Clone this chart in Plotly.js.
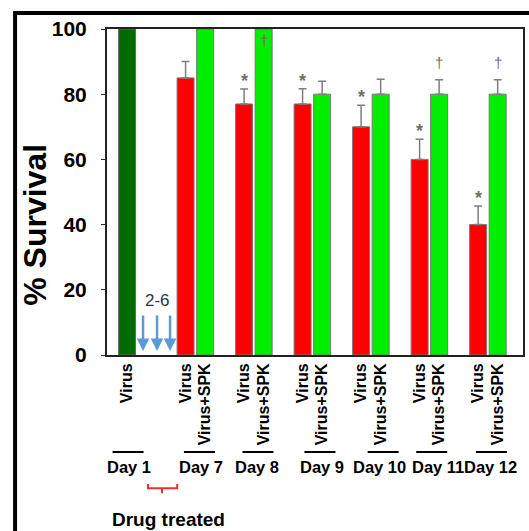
<!DOCTYPE html>
<html>
<head>
<meta charset="utf-8">
<script src="https://cdn.plot.ly/plotly-3.0.1.min.js"></script>
<style>html,body{margin:0;padding:0;background:#fff;}#chart{width:529px;height:531px;}</style>
</head>
<body>
<div id="chart"></div>
<script>
// ---- data ----
const groups = ['Day 1', 'Day 7', 'Day 8', 'Day 9', 'Day 10', 'Day 11', 'Day 12'];
const day1Virus = [100];
const virusVals = [85, 77, 77, 70, 60, 40];        // Day 7..12
const virusErr  = [5, 4.6, 4.7, 6.6, 6.2, 5.7];
const spkVals   = [100, 100, 80, 80, 80, 80];      // Day 7..12
const spkErr    = [0, 0, 4, 4.6, 4.4, 4.4];
const virusSig  = ['', '*', '*', '*', '*', '*'];
const spkSig    = ['', '\u2020', '', '', '\u2020', '\u2020'];
const barLabelVirus = 'Virus';
const barLabelSpk = 'Virus+SPK';
const drugDays = '2-6';

// ---- layout helpers ----
const off = 0.167, bw = 0.29;
const gIdx = groups.slice(1).map((_, i) => i + 1);
const xVirus = gIdx.map(g => g - off);
const xSpk = gIdx.map(g => g + off);
const xDay1 = [0 - off];
const F = 'Arial, "Liberation Sans", sans-serif';
const gray = '#7f7f7f';

const traces = [
  {type: 'bar', x: xDay1, y: day1Virus, width: bw,
   marker: {color: '#006b00', line: {color: '#666', width: 1}}, hoverinfo: 'y'},
  {type: 'bar', x: xVirus, y: virusVals, width: bw,
   marker: {color: '#ff0000', line: {color: '#777', width: 1}},
   error_y: {type: 'data', symmetric: false, array: virusErr, arrayminus: virusErr.map(() => 0),
             color: gray, thickness: 1.5, width: 4}},
  {type: 'bar', x: xSpk, y: spkVals, width: bw,
   marker: {color: '#00ee00', line: {color: '#777', width: 1}},
   error_y: {type: 'data', symmetric: false, array: spkErr, arrayminus: spkErr.map(() => 0),
             color: gray, thickness: 1.5, width: 4}}
];

const annotations = [];
// significance markers
virusSig.forEach((s, i) => {
  if (!s) return;
  annotations.push({x: xVirus[i], y: virusVals[i] + virusErr[i], xref: 'x', yref: 'y', text: s,
    showarrow: false, yshift: 8, font: {family: F, size: 18, color: '#6f6f6f', weight: 'bold'}});
});
spkSig.forEach((s, i) => {
  if (!s) return;
  const top = spkVals[i] + spkErr[i];
  annotations.push({x: xSpk[i], y: Math.min(top, 100), xref: 'x', yref: 'y', text: s,
    showarrow: false, yshift: top >= 100 ? -11 : 17, font: {family: F, size: 15, color: '#6f6f6f'}});
});
// y title
annotations.push({xref: 'paper', yref: 'paper', x: -0.175, y: 0.40, xanchor: 'center', yanchor: 'middle',
  text: '% Survival', textangle: -90,
  showarrow: false, font: {family: F, size: 32, color: '#000', weight: 'bold'}});
// drug days label + arrows
annotations.push({xref: 'x', yref: 'y', x: 0.345, y: 16.6, text: drugDays, showarrow: false,
  font: {family: F, size: 17, color: '#333'}});
[0.106, 0.345, 0.568].forEach(xa => {
  annotations.push({xref: 'x', yref: 'y', x: xa, y: 1.2, axref: 'x', ayref: 'y', ax: xa, ay: 12.6,
    text: '', showarrow: true, arrowhead: 2, arrowsize: 1, arrowwidth: 2.5, arrowcolor: '#5b9bd5'});
});
// day labels
const dayLabelX = [-0.13, 1.10, 2.05, 3.17, 4.15, 5.14, 6.04];
const dayLineX = [-0.15, 1.07, 2.07, 3.13, 4.21, 5.04, 6.06];
groups.forEach((d, i) => {
  annotations.push({xref: 'x', yref: 'paper', x: dayLabelX[i], y: -0.344, xanchor: 'center', yanchor: 'middle',
    text: d, showarrow: false, font: {family: F, size: 16.5, color: '#000', weight: 'bold'}});
});
annotations.push({xref: 'paper', yref: 'paper', x: 0.007, y: -0.506, xanchor: 'left', yanchor: 'middle',
  text: 'Drug treated', showarrow: false, font: {family: F, size: 19, color: '#000', weight: 'bold'}});

const shapes = dayLineX.map(x => ({type: 'line', xref: 'x', yref: 'paper', x0: x - 0.265, x1: x + 0.265,
  y0: -0.2975, y1: -0.2975, line: {color: '#000', width: 2}}));
// red bracket
shapes.push({type: 'path', xref: 'x', yref: 'paper',
  path: 'M 0.19,-0.396 L 0.19,-0.409 L 0.69,-0.409 L 0.69,-0.396 M 0.43,-0.409 L 0.43,-0.424',
  line: {color: '#e53030', width: 2}});
// outer frame
shapes.push({type: 'path', xref: 'paper', yref: 'paper',
  path: 'M -0.221,-0.7 L -0.221,1.049 L 1.05,1.049', line: {color: '#000', width: 4}});

const tickvals = xDay1.concat(...gIdx.map((g, i) => [xVirus[i], xSpk[i]]));
const ticktext = [barLabelVirus].concat(...gIdx.map(() => [barLabelVirus, barLabelSpk]));

const layout = {
  width: 529, height: 531,
  margin: {l: 107, r: 6, t: 29, b: 176},
  paper_bgcolor: '#fff', plot_bgcolor: '#fff',
  showlegend: false, barmode: 'overlay',
  xaxis: {range: [-0.51, 6.60], tickvals: tickvals, ticktext: ticktext, tickangle: -90,
    tickfont: {family: F, size: 16, color: '#000', weight: 'bold'}, ticks: '',
    showline: true, linecolor: '#222', linewidth: 2, mirror: true, showgrid: false, zeroline: false},
  yaxis: {range: [0, 100], tickvals: [0, 20, 40, 60, 80, 100], ticks: 'outside', ticklen: 4,
    tickcolor: '#333', ticklabelstandoff: 10,
    tickfont: {family: F, size: 21, color: '#000', weight: 'bold'},
    showline: true, linecolor: '#222', linewidth: 2, mirror: true, showgrid: false, zeroline: false},
  annotations: annotations, shapes: shapes
};

Plotly.newPlot('chart', traces, layout, {displayModeBar: false, staticPlot: true});
</script>
</body>
</html>
